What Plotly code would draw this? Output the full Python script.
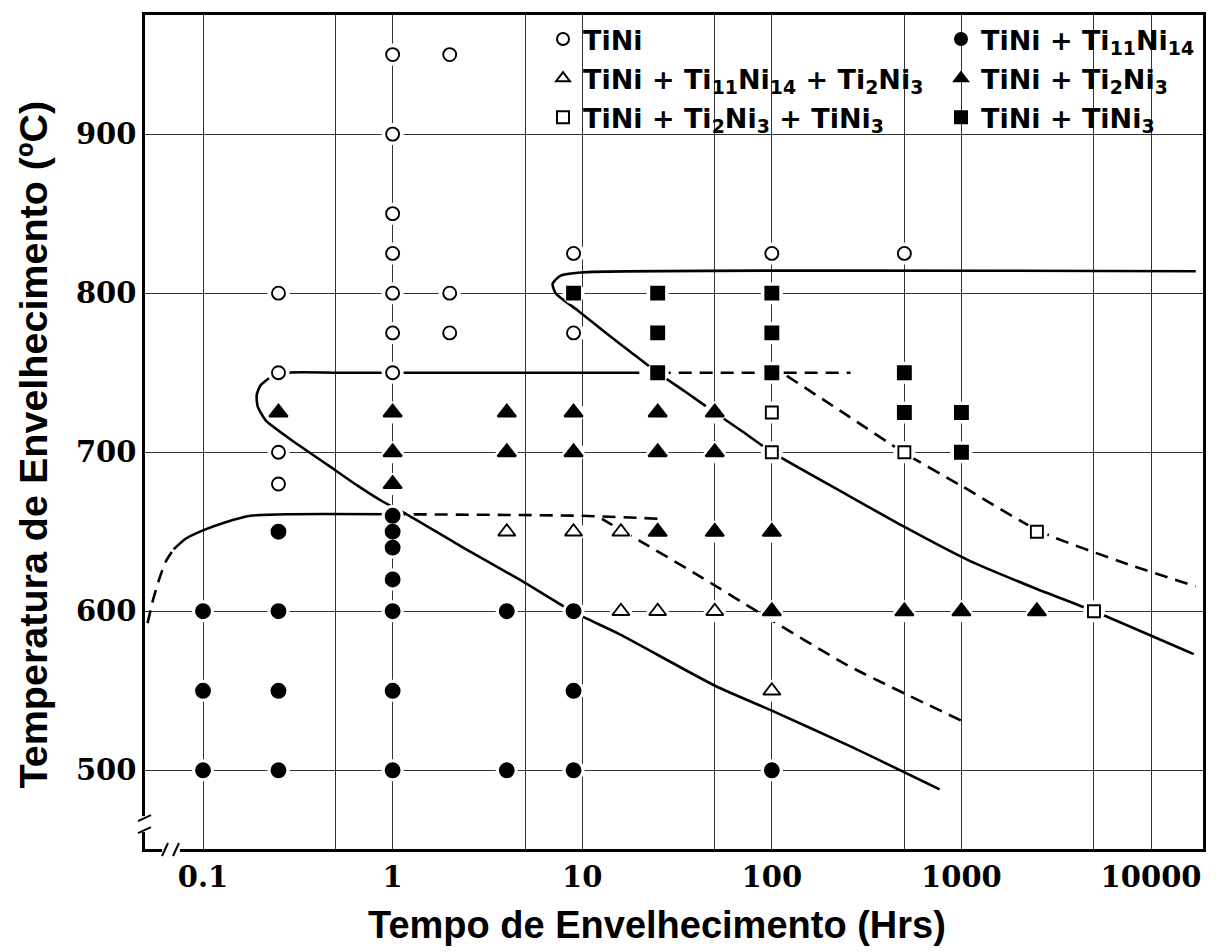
import plotly.graph_objects as go

# ---------------- data ----------------
# phase observations: aging time (h) and aging temperature (degC)
tini_t = [0.25, 0.25, 0.25, 0.25, 1, 1, 1, 1, 1, 1, 1, 2, 2, 2, 9, 9, 100, 500]
tini_T = [800, 750, 700, 680, 950, 900, 850, 825, 800, 775, 750, 950, 800, 775, 825, 775, 825, 825]

ti11_t = [0.1, 0.1, 0.1, 0.25, 0.25, 0.25, 0.25, 1, 1, 1, 1, 1, 1, 1, 4, 4, 9, 9, 9, 100]
ti11_T = [600, 550, 500, 650, 600, 550, 500, 660, 650, 640, 620, 600, 550, 500, 600, 500, 600, 550, 500, 500]

ti11ti2_t = [4, 9, 16, 16, 25, 50, 100]
ti11ti2_T = [650, 650, 650, 600, 600, 600, 550]

ti2_t = [0.25, 1, 1, 1, 4, 4, 9, 9, 25, 25, 25, 50, 50, 50, 100, 100, 500, 1000, 2500]
ti2_T = [725, 725, 700, 680, 725, 700, 725, 700, 725, 700, 650, 725, 700, 650, 650, 600, 600, 600, 600]

ti2tini3_t = [100, 100, 500, 2500, 5000]
ti2tini3_T = [725, 700, 700, 650, 600]

tini3_t = [9, 25, 25, 25, 100, 100, 100, 500, 500, 1000, 1000]
tini3_T = [800, 800, 775, 750, 800, 775, 750, 750, 725, 725, 700]

# boundary curves
c1_dash_t = [0.051, 0.0542, 0.0583, 0.0635, 0.070]
c1_dash_T = [592.5, 606, 619, 631, 639]
c1_t = [0.070, 0.081, 0.1007, 0.1316, 0.178, 0.290, 1.0]
c1_T = [639, 645.6, 651, 656, 660, 661, 661]

c2_t = [20, 5, 1, 0.5, 0.283, 0.227, 0.201, 0.192, 0.194, 0.214, 0.290, 0.454, 0.653, 0.886,
        1.2, 2.28, 4.73, 9.0, 15.7, 50.5, 100, 260, 767]
c2_T = [750, 750, 750, 750, 750, 747, 742, 736, 729, 720, 708, 692, 679, 669,
        660.6, 641, 619.5, 599.4, 585.6, 553, 537.5, 515, 488]

c3_t = [1, 10, 27]
c3_T = [661, 660, 658]

c4_t = [12.7, 20.3, 43, 86, 251, 1050]
c4_T = [658, 644, 621, 599, 566, 530]

c5_t = [25, 260]
c5_T = [750, 750]

c6_t = [17200, 9.81, 7.69, 6.98, 7.24, 9.5, 13, 18, 25, 35, 50, 70, 100, 251, 501, 1091, 2500, 5000, 16800]
c6_T = [813.75, 813, 811, 806, 800, 789, 776, 763, 750, 738, 725, 713, 700, 673, 653, 632, 614, 600, 573]

c7_t = [120, 251, 501, 1002, 2618, 7620, 17180]
c7_T = [748, 723, 699.4, 678.75, 650, 629.4, 615.6]

x_tickvals = [0.1, 1, 10, 100, 1000, 10000]
x_ticktext = ["0.1", "1", "10", "100", "1000", "10000"]
x_minorvals = [0.5, 5, 50, 500, 5000]
y_tickvals = [500, 600, 700, 800, 900]

# ---------------- layout geometry ----------------
W, H = 1222, 952
ML, MR, MT, MB = 145, 19, 12, 103
PW, PH = W - ML - MR, H - MT - MB


def px(xp):
    return (xp - ML) / PW


def py(yp):
    return 1 - (yp - MT) / PH


fig = go.Figure()

solid = dict(color="black", width=2.6)
dashed = dict(color="black", width=2.6, dash="13px,8px")

curves = [
    (c1_dash_t, c1_dash_T, dashed),
    (c1_t, c1_T, solid),
    (c2_t, c2_T, solid),
    (c3_t, c3_T, dashed),
    (c4_t, c4_T, dashed),
    (c5_t, c5_T, dashed),
    (c6_t, c6_T, solid),
    (c7_t, c7_T, dashed),
]
for ct, cT, ln in curves:
    fig.add_trace(go.Scatter(x=ct, y=cT, mode="lines", line=dict(shape="spline", smoothing=0.6, **ln),
                             showlegend=False, hoverinfo="skip"))

# white halo that interrupts grid and curves around data points
all_t = tini_t + ti11_t + ti11ti2_t + ti2_t + ti2tini3_t + tini3_t
all_T = tini_T + ti11_T + ti11ti2_T + ti2_T + ti2tini3_T + tini3_T
fig.add_trace(go.Scatter(x=all_t, y=all_T, mode="markers",
                         marker=dict(symbol="circle", size=22, color="white", line=dict(width=0)),
                         showlegend=False, hoverinfo="skip"))

series = [
    (tini_t, tini_T, "TiNi", "circle", 13, "white", "legend"),
    (ti11_t, ti11_T, "TiNi + Ti<sub>11</sub>Ni<sub>14</sub>", "circle", 14, "black", "legend2"),
    (ti11ti2_t, ti11ti2_T, "TiNi + Ti<sub>11</sub>Ni<sub>14</sub> + Ti<sub>2</sub>Ni<sub>3</sub>",
     "triangle-up", 15, "white", "legend"),
    (ti2_t, ti2_T, "TiNi + Ti<sub>2</sub>Ni<sub>3</sub>", "triangle-up", 16, "black", "legend2"),
    (ti2tini3_t, ti2tini3_T, "TiNi + Ti<sub>2</sub>Ni<sub>3</sub> + TiNi<sub>3</sub>", "square", 12, "white",
     "legend"),
    (tini3_t, tini3_T, "TiNi + TiNi<sub>3</sub>", "square", 13, "black", "legend2"),
]
for i, (st, sT, name, sym, size, fill, lg) in enumerate(series):
    fig.add_trace(go.Scatter(x=st, y=sT, mode="markers", name=name, legend=lg, legendgroup="g%d" % i,
                             marker=dict(symbol=sym, size=size, color=fill,
                                         line=dict(color="black", width=1.9))))

shapes = [
    # white panel behind the legend
    dict(type="rect", xref="paper", yref="paper", x0=px(545), x1=px(1172), y0=py(140), y1=1,
         fillcolor="white", line=dict(width=0), layer="between"),
    # axis breaks
    dict(type="rect", xref="paper", yref="paper", x0=px(137), x1=px(153), y0=py(832), y1=py(816),
         fillcolor="white", line=dict(width=0), layer="above"),
    dict(type="line", xref="paper", yref="paper", x0=px(138), x1=px(151), y0=py(821), y1=py(815),
         line=dict(color="black", width=2), layer="above"),
    dict(type="line", xref="paper", yref="paper", x0=px(138), x1=px(151), y0=py(833), y1=py(827),
         line=dict(color="black", width=2), layer="above"),
    dict(type="rect", xref="paper", yref="paper", x0=px(162), x1=px(180), y0=py(856), y1=py(842),
         fillcolor="white", line=dict(width=0), layer="above"),
    dict(type="line", xref="paper", yref="paper", x0=px(162), x1=px(168), y0=py(856), y1=py(843),
         line=dict(color="black", width=2), layer="above"),
    dict(type="line", xref="paper", yref="paper", x0=px(173), x1=px(179), y0=py(856), y1=py(843),
         line=dict(color="black", width=2), layer="above"),
]

tickfont = dict(family="DejaVu Serif", size=29, color="black", weight="bold")
xtitlefont = dict(family="Liberation Sans, Arial, sans-serif", size=38, color="black", weight="bold")
ytitlefont = dict(family="Liberation Sans, Arial, sans-serif", size=39.5, color="black", weight="bold")
legfont = dict(family="DejaVu Sans", size=27, color="black", weight="bold")

legend_common = dict(orientation="v", yanchor="top", xanchor="left", bgcolor="rgba(0,0,0,0)",
                     font=legfont, itemsizing="constant", tracegroupgap=1)

fig.update_layout(
    width=W, height=H,
    margin=dict(l=ML, r=MR, t=MT, b=MB, pad=0),
    paper_bgcolor="white", plot_bgcolor="white",
    shapes=shapes,
    showlegend=True,
    legend=dict(x=px(543), y=py(12), **legend_common),
    legend2=dict(x=px(941), y=py(12), **legend_common),
    annotations=[
        dict(text="Tempo de Envelhecimento (Hrs)", xref="paper", yref="paper",
             x=px(657), y=py(925), showarrow=False, font=xtitlefont, xanchor="center", yanchor="middle"),
        dict(text="Temperatura de Envelhecimento (ºC)", xref="paper", yref="paper",
             x=px(33), y=py(443), showarrow=False, font=ytitlefont, textangle=-90,
             xanchor="center", yanchor="middle"),
    ],
    xaxis=dict(type="log", range=[-1.306, 4.274], tickmode="array", tickvals=x_tickvals,
               ticktext=x_ticktext, tickfont=tickfont, showgrid=True, gridcolor="#333333",
               gridwidth=1, showline=True, linecolor="black", linewidth=2.5, mirror=True,
               ticks="", zeroline=False,
               minor=dict(tickvals=x_minorvals, showgrid=True, gridcolor="#333333", gridwidth=1, ticks="")),
    yaxis=dict(range=[450.5, 974.9], tickmode="array", tickvals=y_tickvals, tickfont=tickfont,
               showgrid=True, gridcolor="#333333", gridwidth=1, showline=True, linecolor="black",
               linewidth=2.5, mirror=True, ticks="", zeroline=False),
)

fig.write_html("out.html")
